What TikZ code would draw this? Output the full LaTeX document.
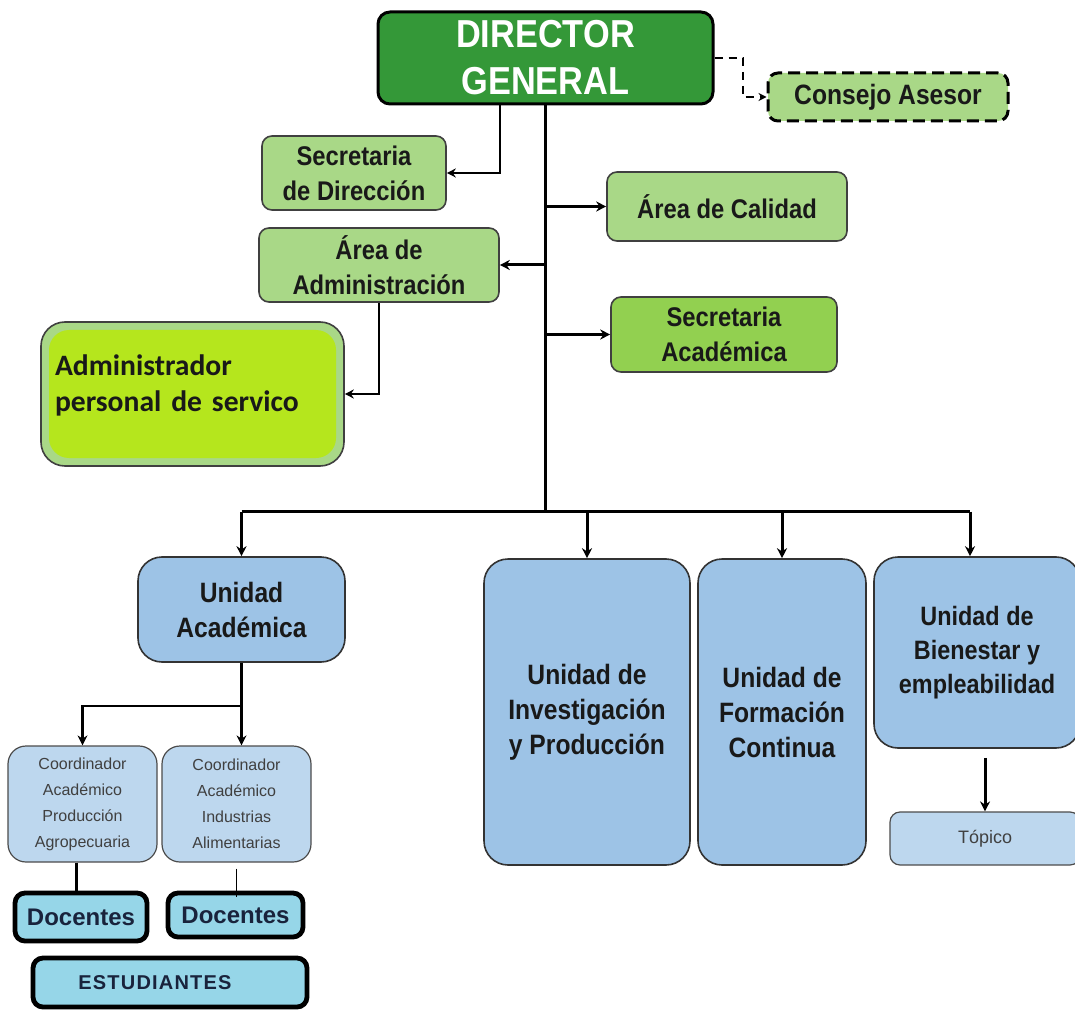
\documentclass[tikz,border=0pt]{standalone}
\usepackage{fontspec}
\setmainfont{Liberation Sans}
\newfontfamily\narrowsf[FakeStretch=0.88]{Liberation Sans}
\newfontfamily\calibrisf{Carlito}
\usetikzlibrary{arrows.meta}

\definecolor{darkgreen}{RGB}{52,152,56}
\definecolor{paleleaf}{RGB}{169,216,135}
\definecolor{midleaf}{RGB}{146,208,80}
\definecolor{limefill}{RGB}{181,230,29}
\definecolor{unitblue}{RGB}{157,195,230}
\definecolor{paleblue}{RGB}{189,215,238}
\definecolor{docfill}{RGB}{150,214,232}
\definecolor{navytext}{RGB}{25,35,60}

\begin{document}
\begin{tikzpicture}[
    x=0.5pt, y=-0.5pt,
    greenbox/.style={draw=black!75, fill=paleleaf, rounded corners=5pt, line width=0.8pt, align=center, inner sep=0pt,
        text=black!90, font=\narrowsf\bfseries\fontsize{13.5}{17.5}\selectfont},
    bluebox/.style={draw=black!80, fill=unitblue, rounded corners=12pt, line width=0.8pt, align=center, inner sep=0pt,
        text=black!90, font=\narrowsf\bfseries\fontsize{14}{17.5}\selectfont},
    coordbox/.style={draw=black!70, fill=paleblue, rounded corners=9pt, line width=0.6pt, align=center, inner sep=0pt,
        text=black!75, font=\fontsize{8}{13}\selectfont},
    docbox/.style={draw=black, fill=docfill, rounded corners=5pt, line width=2.4pt, align=center, inner sep=0pt,
        text=navytext, font=\bfseries\fontsize{12}{14}\selectfont},
    trunk/.style={line width=1.5pt},
    trunkarrow/.style={line width=1.5pt, -{Stealth[length=5pt,width=5pt]}},
    thinarrow/.style={line width=1pt, -{Stealth[length=4.5pt,width=4.5pt]}},
]
\useasboundingbox (0,0) rectangle (1075,1010);

% top level
\node[draw=black, fill=darkgreen, rounded corners=6pt, line width=1.5pt, align=center, inner sep=0pt,
      minimum width=167.5pt, minimum height=46pt, text=white,
      font=\narrowsf\bfseries\fontsize{19.5}{23.5}\selectfont] (director) at (545.5,58) {DIRECTOR\\GENERAL};
\node[greenbox, dashed, draw=black, line width=1.5pt, dash pattern=on 6pt off 3pt,
      minimum width=120pt, minimum height=24pt, font=\narrowsf\bfseries\fontsize{14}{17}\selectfont] (consejo) at (888,97) {Consejo Asesor};

% staff areas
\node[greenbox, minimum width=92pt, minimum height=37pt] (secdir) at (354,173) {Secretaria\\de Dirección};
\node[greenbox, minimum width=120pt, minimum height=34.5pt] (calidad) at (727,206.5) {Área de Calidad};
\node[greenbox, minimum width=120pt, minimum height=37pt] (admin) at (379,265) {Área de\\Administración};
\node[greenbox, fill=midleaf, minimum width=113pt, minimum height=37.5pt] (secacad) at (724,334.5) {Secretaria\\Académica};
\node[greenbox, rounded corners=12pt, minimum width=151.5pt, minimum height=72pt, inner xsep=7pt,
      text width=137.5pt, align=left, text height=10pt, text depth=29pt,
      font=\calibrisf\bfseries\fontsize{14.8}{18}\selectfont,
      path picture={\fill[limefill, rounded corners=10pt]
          ([shift={(4pt,4pt)}]path picture bounding box.south west) rectangle
          ([shift={(-4pt,-4pt)}]path picture bounding box.north east);}]
      (adminper) at (192.5,394) {Administrador\\personal de servico};

% units
\node[bluebox, minimum width=103.5pt, minimum height=52.5pt, fill=unitblue] (unacad) at (241.5,609.5) {Unidad\\Académica};
\node[bluebox, minimum width=103pt, minimum height=153pt] (investig) at (587,712) {Unidad de\\Investigación\\y Producción};
\node[bluebox, minimum width=84pt, minimum height=153pt] (formacion) at (782,712) {Unidad de\\Formación\\Continua};
\node[bluebox, minimum width=103pt, minimum height=95.5pt, font=\narrowsf\bfseries\fontsize{13.3}{17}\selectfont] (bienestar) at (977,652.5) {Unidad de\\Bienestar y\\empleabilidad};
\node[coordbox, rounded corners=5pt, minimum width=95pt, minimum height=26.5pt, font=\fontsize{9}{11}\selectfont] (topico) at (985,838.5) {Tópico};

% academic unit
\node[coordbox, minimum width=74.5pt, minimum height=58pt] (coordagro) at (82.5,804) {Coordinador\\Académico\\Producción\\Agropecuaria};
\node[coordbox, minimum width=74.5pt, minimum height=58pt] (coordalim) at (236.5,804) {Coordinador\\Académico\\Industrias\\Alimentarias};
\node[docbox, minimum width=66pt, minimum height=24pt] (docagro) at (81,917) {Docentes};
\node[docbox, minimum width=67.5pt, minimum height=22pt] (docalim) at (235.5,915) {Docentes};
\node[docbox, minimum width=137pt, minimum height=24.5pt, font=\bfseries\fontsize{10}{12}\selectfont\addfontfeatures{LetterSpace=6}] (estud) at (170,982.5) {ESTUDIANTES\hspace*{15pt}};

% connectors
\draw[thinarrow] ([xshift=-22.75pt]director.south) |- (secdir.east);
\draw[line width=1pt, dashed, dash pattern=on 4pt off 3pt, -{Stealth[length=4pt,width=4pt]}] (director.east) -- ++(28,0) |- (consejo.west);
\path (director.south) ++(0,406) coordinate (bus);
\draw[trunk] (director.south) -- (bus);
\draw[trunkarrow] (director.south |- calidad.west) -- (calidad.west);
\draw[trunkarrow] (director.south |- admin.east) -- (admin.east);
\draw[trunkarrow] (director.south |- secacad.west) -- (secacad.west);
\draw[thinarrow] (admin.south) |- (adminper.east);

\draw[trunk] (unacad.north |- bus) -- ([xshift=-3.5pt]bienestar.north |- bus);
\foreach \unit in {unacad,investig,formacion}
    \draw[trunkarrow] (\unit.north |- bus) -- (\unit.north);
\draw[trunkarrow] ([xshift=-3.5pt]bienestar.north |- bus) -- ([xshift=-3.5pt]bienestar.north);
\draw[trunkarrow] ([yshift=-4.5pt]bienestar.south -| topico.north) -- (topico.north);

\draw[line width=1.2pt] (unacad.south) -- ++(0,43) coordinate (split);
\draw[line width=1.2pt, -{Stealth[length=5pt,width=5pt]}] (split) -| (coordagro.north);
\draw[line width=1.2pt, -{Stealth[length=5pt,width=5pt]}] (split) -- (split |- coordalim.north);
\draw[line width=1.5pt] ([xshift=-3pt]coordagro.south) -- ([xshift=-3pt]coordagro.south |- docagro.north);
\draw[line width=0.5pt] ([yshift=-3pt]coordalim.south) -- ([yshift=-3pt]coordalim.south |- docalim.north);
\end{tikzpicture}
\end{document}
